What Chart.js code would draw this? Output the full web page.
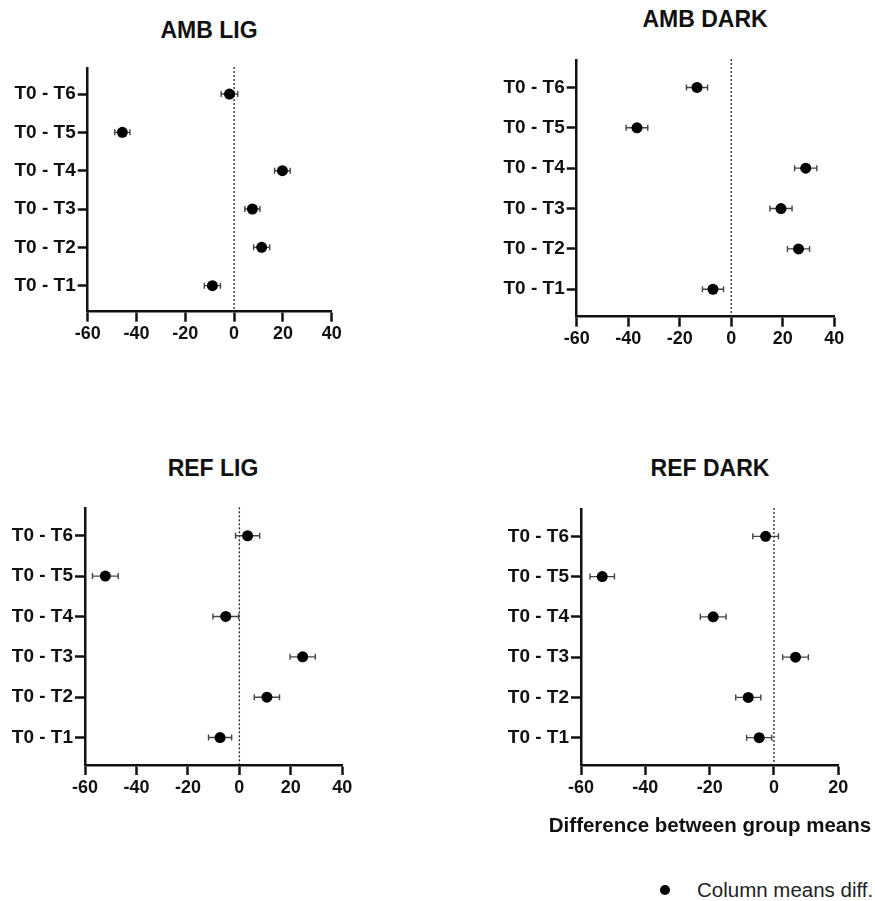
<!DOCTYPE html>
<html>
<head>
<meta charset="utf-8">
<script src="https://cdn.jsdelivr.net/npm/chart.js@4.4.1/dist/chart.umd.min.js"></script>
<style>
  html, body { margin: 0; padding: 0; background: #fff; }
  body { width: 875px; height: 901px; position: relative; overflow: hidden; font-family: "Liberation Sans", Arial, sans-serif; }
  .wrap { position: absolute; }
  .ttl { position: absolute; font-weight: bold; font-size: 23px; color: #111; white-space: nowrap; transform: translate(-50%, -50%); line-height: 1; }
  .xt { position: absolute; font-weight: bold; font-size: 20.5px; color: #111; white-space: nowrap; transform: translate(-50%, -50%); line-height: 1; }
  .legend { position: absolute; left: 660px; top: 878px; height: 24px; display: flex; align-items: center; font-size: 20.5px; color: #222; white-space: nowrap; }
  .legend .dot { width: 10px; height: 10px; border-radius: 50%; background: #000; margin-right: 27px; }
</style>
</head>
<body>
<div class="ttl" style="left:209px; top:30px;">AMB LIG</div>
<div class="ttl" style="left:705px; top:19px;">AMB DARK</div>
<div class="ttl" style="left:213px; top:468px;">REF LIG</div>
<div class="ttl" style="left:710px; top:468px;">REF DARK</div>

<div class="wrap" style="left:0px; top:40px; width:440px; height:320px;"><canvas id="c1"></canvas></div>
<div class="wrap" style="left:440px; top:30px; width:435px; height:330px;"><canvas id="c2"></canvas></div>
<div class="wrap" style="left:0px; top:480px; width:440px; height:330px;"><canvas id="c3"></canvas></div>
<div class="wrap" style="left:440px; top:480px; width:435px; height:370px;"><canvas id="c4"></canvas></div>

<div class="xt" id="xtitle" style="left:710px; top:825px;"></div>
<div class="legend"><span class="dot"></span><span id="legtext"></span></div>

<script>
// ---- Data (bottom to top: T0 - T1 ... T0 - T6) ----
const categories = ["T0 - T1", "T0 - T2", "T0 - T3", "T0 - T4", "T0 - T5", "T0 - T6"];

const ambLigMean  = [-8.9, 11.3, 7.5, 19.8, -45.8, -1.9];
const ambLigErr   = [3.3, 3.3, 3.1, 3.2, 3.1, 3.4];

const ambDarkMean = [-7.1, 26.1, 19.3, 28.9, -36.6, -13.3];
const ambDarkErr  = [4.1, 4.3, 4.3, 4.3, 4.2, 4.1];

const refLigMean  = [-7.5, 10.7, 24.6, -5.3, -52.1, 3.2];
const refLigErr   = [4.5, 4.9, 4.9, 5.0, 5.0, 4.7];

const refDarkMean = [-4.6, -8.0, 6.7, -18.9, -53.4, -2.6];
const refDarkErr  = [3.9, 3.9, 4.0, 4.0, 3.8, 4.0];

const xTicksA = [-60, -40, -20, 0, 20, 40];
const xTicksB = [-60, -40, -20, 0, 20];

const legendLabel = "Column means diff.";
const xAxisTitle = "Difference between group means";

document.getElementById('xtitle').textContent = xAxisTitle;
document.getElementById('legtext').textContent = legendLabel;

// ---- Plugins ----
const zeroLine = {
  id: 'zeroLine',
  beforeDatasetsDraw(chart) {
    const {ctx, chartArea, scales: {x}} = chart;
    const px = x.getPixelForValue(0);
    ctx.save();
    ctx.strokeStyle = '#222';
    ctx.lineWidth = 1.3;
    ctx.setLineDash([2, 2]);
    ctx.beginPath();
    ctx.moveTo(px, chartArea.top - 1);
    ctx.lineTo(px, chartArea.bottom);
    ctx.stroke();
    ctx.restore();
  }
};

const errorBars = {
  id: 'errorBars',
  beforeDatasetsDraw(chart) {
    const {ctx, scales: {x, y}} = chart;
    const ds = chart.data.datasets[0];
    ctx.save();
    ctx.strokeStyle = '#444';
    ctx.lineWidth = 1.4;
    ds.data.forEach(p => {
      const yp = y.getPixelForValue(p.y);
      const x1 = x.getPixelForValue(p.x - p.err);
      const x2 = x.getPixelForValue(p.x + p.err);
      ctx.beginPath();
      ctx.moveTo(x1, yp); ctx.lineTo(x2, yp);
      ctx.moveTo(x1, yp - 3); ctx.lineTo(x1, yp + 3);
      ctx.moveTo(x2, yp - 3); ctx.lineTo(x2, yp + 3);
      ctx.stroke();
    });
    ctx.restore();
  }
};

const tickFont = { family: "'Liberation Sans', Arial, sans-serif", size: 19, weight: 'bold' };
const xTickFont = { family: "'Liberation Sans', Arial, sans-serif", size: 18, weight: 'bold' };

function makeChart(id, means, errs, xTicks, cfg) {
  const points = means.map((m, i) => ({ x: m, y: i + 1, err: errs[i] }));
  const xMin = xTicks[0], xMax = xTicks[xTicks.length - 1];
  new Chart(document.getElementById(id), {
    type: 'scatter',
    data: {
      datasets: [{
        label: legendLabel,
        data: points,
        backgroundColor: '#000',
        borderColor: '#000',
        pointRadius: 5.5,
        pointHoverRadius: 5.5,
        pointBorderWidth: 0
      }]
    },
    options: {
      responsive: true,
      maintainAspectRatio: false,
      animation: false,
      events: [],
      layout: { padding: cfg.padding },
      plugins: { legend: { display: false }, tooltip: { enabled: false }, title: { display: false } },
      scales: {
        x: {
          type: 'linear',
          min: xMin, max: xMax,
          afterBuildTicks(s) { s.ticks = xTicks.map(v => ({ value: v })); },
          ticks: { font: xTickFont, color: '#111', padding: 2, maxRotation: 0 },
          grid: { drawOnChartArea: false, drawTicks: true, tickLength: 10, tickWidth: 2.5, tickColor: '#111' },
          border: { display: true, width: 2.5, color: '#111' },
          afterFit(s) { s.height = cfg.xH; }
        },
        y: {
          type: 'linear',
          min: 0.32, max: 6.68,
          afterBuildTicks(s) { s.ticks = categories.map((c, i) => ({ value: i + 1 })); },
          ticks: { font: tickFont, color: '#111', padding: 2, autoSkip: false,
                   callback: v => categories[Math.round(v) - 1] },
          grid: { drawOnChartArea: false, drawTicks: true, tickLength: 10, tickWidth: 2.5, tickColor: '#111' },
          border: { display: true, width: 2.5, color: '#111' },
          afterFit(s) { s.width = cfg.yW; }
        }
      }
    },
    plugins: [zeroLine, errorBars]
  });
}

makeChart('c1', ambLigMean, ambLigErr, xTicksA,
  { yW: 87.7, xH: 40, padding: { left: 0, top: 28, right: 108.3, bottom: 8.3 } });
makeChart('c2', ambDarkMean, ambDarkErr, xTicksA,
  { yW: 136.7, xH: 40, padding: { left: 0, top: 30, right: 40.7, bottom: 3.3 } });
makeChart('c3', refLigMean, refLigErr, xTicksA,
  { yW: 85, xH: 40, padding: { left: 0, top: 28.3, right: 97.7, bottom: 5 } });
makeChart('c4', refDarkMean, refDarkErr, xTicksB,
  { yW: 141, xH: 40, padding: { left: 0, top: 29, right: 36.7, bottom: 45 } });
</script>
</body>
</html>
